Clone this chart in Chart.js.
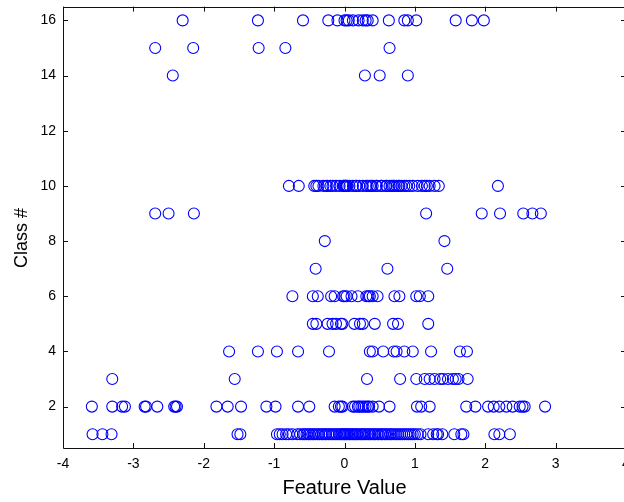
<!DOCTYPE html>
<html>
<head>
<meta charset="utf-8">
<script src="https://cdn.jsdelivr.net/npm/chart.js@4/dist/chart.umd.min.js"></script>
<style>
  html, body { margin: 0; padding: 0; overflow: hidden; background: #fff; }
  #wrap { width: 640px; height: 502px; }
</style>
</head>
<body>
<div id="wrap"><canvas id="c" width="640" height="502"></canvas></div>
<script>
// Feature value of every sample, grouped by class number
const feat1 = [-3.58, -3.44, -3.31, -1.52, -1.48, -0.96, -0.92, -0.88, -0.83, -0.79, -0.74, -0.67, -0.63, -0.59, -0.57,
  -0.54, -0.51, -0.49, -0.46, -0.44, -0.41, -0.38, -0.36, -0.33, -0.31, -0.28, -0.26, -0.23, -0.21, -0.18, -0.16,
  -0.13, -0.11, -0.08, -0.06, -0.04, -0.02, 0.00, 0.01, 0.03, 0.05, 0.07, 0.09, 0.11, 0.13, 0.15, 0.17, 0.19, 0.22,
  0.24, 0.26, 0.28, 0.30, 0.33, 0.35, 0.37, 0.40, 0.42, 0.44, 0.47, 0.49, 0.52, 0.54, 0.57, 0.59, 0.62, 0.65, 0.67,
  0.70, 0.73, 0.76, 0.79, 0.82, 0.85, 0.88, 0.91, 0.94, 0.97, 1.00, 1.04, 1.08, 1.19, 1.26, 1.31, 1.33, 1.39,
  1.56, 1.66, 1.69, 2.13, 2.20, 2.35];
const feat2 = [-3.59, -3.30, -3.16, -3.12, -2.84, -2.82, -2.66, -2.42, -2.40, -2.38, -1.82, -1.66, -1.47, -1.11, -0.98,
  -0.66, -0.50, -0.14, -0.08, -0.05, -0.03, 0.12, 0.15, 0.19, 0.21, 0.24, 0.27, 0.30, 0.33, 0.35, 0.40, 0.49, 0.64,
  1.03, 1.09, 1.21, 1.73, 1.86, 2.04, 2.12, 2.20, 2.30, 2.39, 2.49, 2.53, 2.56, 2.85];
const feat3 = [-3.30, -1.56, 0.32, 0.79, 1.02, 1.14, 1.21, 1.28, 1.36, 1.40, 1.47, 1.54, 1.58, 1.62, 1.75];
const feat4 = [-1.64, -1.23, -0.96, -0.66, -0.22, 0.36, 0.40, 0.55, 0.70, 0.74, 0.85, 0.97, 1.23, 1.64, 1.74];
const feat5 = [-0.45, -0.40, -0.24, -0.17, -0.12, -0.05, -0.03, 0.14, 0.22, 0.26, 0.43, 0.69, 0.76, 1.19];
const feat6 = [-0.74, -0.45, -0.38, -0.19, -0.14, -0.02, 0.00, 0.03, 0.10, 0.19, 0.31, 0.34, 0.36, 0.40, 0.47,
  0.71, 0.78, 1.02, 1.07, 1.19];
const feat7 = [-0.41, 0.61, 1.46];
const feat8 = [-0.28, 1.42];
const feat9 = [-2.69, -2.50, -2.14, 1.16, 1.95, 2.21, 2.54, 2.67, 2.79];
const feat10 = [-0.79, -0.65, -0.43, -0.40, -0.37, -0.30, -0.26, -0.24, -0.20, -0.17, -0.12, -0.07, -0.02, -0.01,
  0.00, 0.01, 0.02, 0.03, 0.04, 0.07, 0.12, 0.16, 0.17, 0.21, 0.26, 0.31, 0.33, 0.36, 0.38, 0.40, 0.45, 0.46, 0.52,
  0.53, 0.59, 0.60, 0.64, 0.67, 0.69, 0.71, 0.74, 0.77, 0.78, 0.81, 0.85, 0.88, 0.92, 0.97, 1.04, 1.10, 1.14, 1.17,
  1.21, 1.28, 1.34, 2.18];
const feat14 = [-2.44, 0.29, 0.50, 0.90];
const feat15 = [-2.69, -2.15, -1.22, -0.84, 0.64];
const feat16 = [-2.30, -1.23, -0.59, -0.23, -0.10, 0.00, 0.03, 0.06, 0.12, 0.20, 0.26, 0.30, 0.33, 0.40, 0.63,
  0.85, 0.90, 1.02, 1.58, 1.81, 1.98];

const classNumbers = [1, 2, 3, 4, 5, 6, 7, 8, 9, 10, 14, 15, 16];
const classFeatures = [feat1, feat2, feat3, feat4, feat5, feat6, feat7, feat8, feat9, feat10, feat14, feat15, feat16];

const xTicks = [-4, -3, -2, -1, 0, 1, 2, 3, 4];
const yTicks = [2, 4, 6, 8, 10, 12, 14, 16];

const xTitle = 'Feature Value';
const yTitle = 'Class #';

const points = [];
classNumbers.forEach((c, i) => {
  classFeatures[i].forEach(v => points.push({ x: v, y: c }));
});

const FONT = '"Liberation Sans", Arial, Helvetica, sans-serif';
const INK = '#000000';

// Box around the axes with inward tick marks on all four sides, plus axis titles
const boxAxes = {
  id: 'boxAxes',
  afterDraw(chart) {
    const { ctx, chartArea: a, scales } = chart;
    const tl = 5;
    ctx.save();
    ctx.strokeStyle = '#111';
    ctx.lineWidth = 1;
    ctx.beginPath();
    ctx.rect(Math.round(a.left) + 0.5, Math.round(a.top) + 0.5,
             Math.round(a.right - a.left), Math.round(a.bottom - a.top));
    xTicks.forEach(v => {
      const px = Math.round(scales.x.getPixelForValue(v)) + 0.5;
      ctx.moveTo(px, a.bottom); ctx.lineTo(px, a.bottom - tl);
      ctx.moveTo(px, a.top); ctx.lineTo(px, a.top + tl);
    });
    yTicks.forEach(v => {
      const py = Math.round(scales.y.getPixelForValue(v)) + 0.5;
      ctx.moveTo(a.left, py); ctx.lineTo(a.left + tl, py);
      ctx.moveTo(a.right, py); ctx.lineTo(a.right - tl, py);
    });
    ctx.stroke();

    ctx.fillStyle = INK;
    ctx.textAlign = 'center';
    ctx.textBaseline = 'middle';
    ctx.font = '20px ' + FONT;
    ctx.fillText(xTitle, (a.left + a.right) / 2, 488);
    ctx.font = '18px ' + FONT;
    ctx.translate(22, 238);
    ctx.rotate(-Math.PI / 2);
    ctx.fillText(yTitle, 0, 0);
    ctx.restore();
  }
};

new Chart(document.getElementById('c'), {
  type: 'scatter',
  data: {
    datasets: [{
      data: points,
      pointStyle: 'circle',
      pointRadius: 5.5,
      pointHoverRadius: 5.5,
      borderWidth: 1.1,
      borderColor: '#0000ff',
      backgroundColor: 'rgba(0,0,0,0)'
    }]
  },
  options: {
    responsive: false,
    animation: false,
    events: [],
    layout: { padding: { left: 0, right: 14, top: 5, bottom: 0 } },
    plugins: { legend: { display: false }, tooltip: { enabled: false } },
    scales: {
      x: {
        type: 'linear',
        min: -4, max: 4,
        afterBuildTicks: s => { s.ticks = xTicks.map(v => ({ value: v })); },
        afterFit: s => { s.height = 54; s.paddingLeft = 0; s.paddingRight = 0; },
        grid: { display: false, drawTicks: false },
        border: { display: false },
        ticks: { padding: 8, color: INK, font: { family: FONT, size: 14 }, maxRotation: 0, autoSkip: false }
      },
      y: {
        type: 'linear',
        min: 0.5, max: 16.5,
        afterBuildTicks: s => { s.ticks = yTicks.map(v => ({ value: v })); },
        afterFit: s => { s.width = 63; s.paddingTop = 0; s.paddingBottom = 0; },
        grid: { display: false, drawTicks: false },
        border: { display: false },
        ticks: { padding: 7, color: INK, font: { family: FONT, size: 14 }, autoSkip: false }
      }
    }
  },
  plugins: [boxAxes]
});
</script>
</body>
</html>
